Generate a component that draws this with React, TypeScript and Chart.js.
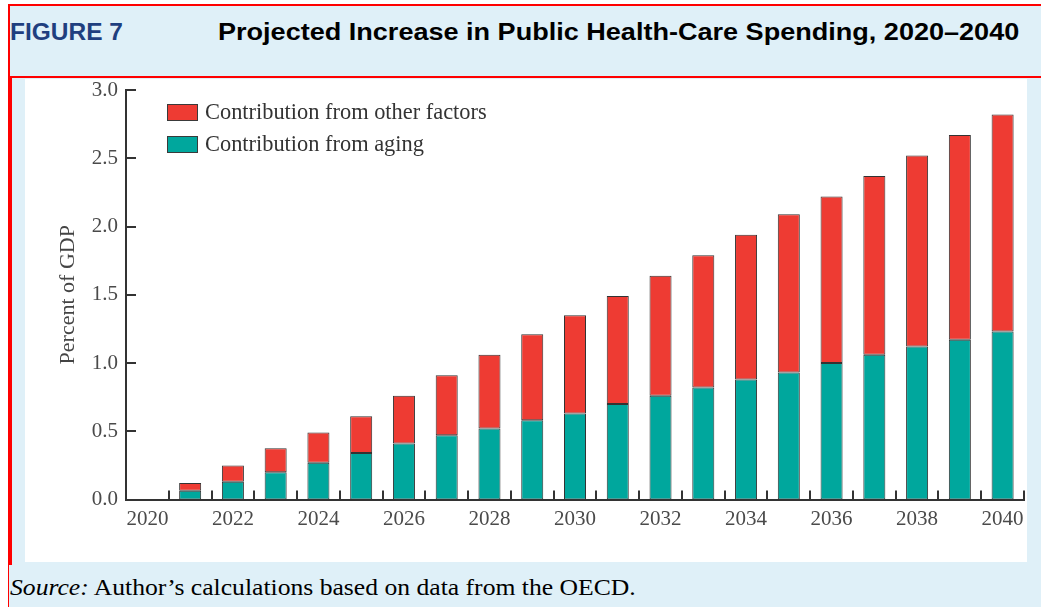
import React, { useEffect, useRef } from "react";
import { Chart, registerables } from "chart.js";

Chart.register(...registerables);

const years = [
  "2020", "2021", "2022", "2023", "2024", "2025", "2026", "2027", "2028", "2029", "2030",
  "2031", "2032", "2033", "2034", "2035", "2036", "2037", "2038", "2039", "2040",
];
const tickLabels = years.map((y, i) => (i % 2 === 0 ? y : ""));
const agingValues = [
  null, 0.065, 0.13, 0.2, 0.27, 0.34, 0.41, 0.47, 0.52, 0.58, 0.63,
  0.7, 0.76, 0.82, 0.88, 0.93, 1.0, 1.06, 1.12, 1.17, 1.23,
];
const otherValues = [
  null, 0.055, 0.12, 0.175, 0.22, 0.27, 0.35, 0.44, 0.54, 0.63, 0.72,
  0.79, 0.88, 0.97, 1.06, 1.16, 1.22, 1.31, 1.4, 1.5, 1.59,
];
const seriesNames = ["Contribution from aging", "Contribution from other factors"];
const seriesColors = ["#00A79D", "#EE3B33"];

const RED = "#FF0000";
const BLUE_BG = "#DFF0F8";
const AXIS = "#333333";

const innerTicks = {
  id: "innerTicks",
  afterDraw(chart: any) {
    const { ctx, scales } = chart;
    const x = scales.x;
    const y = scales.y;
    ctx.save();
    ctx.strokeStyle = AXIS;
    ctx.lineWidth = 2;
    ctx.beginPath();
    for (let i = 0; i < years.length; i++) {
      const px = Math.round(x.getPixelForValue(i + 0.5));
      ctx.moveTo(px, y.bottom);
      ctx.lineTo(px, y.bottom - 9);
    }
    y.ticks.forEach((t: any) => {
      const py = Math.round(y.getPixelForValue(t.value));
      ctx.moveTo(x.left, py);
      ctx.lineTo(x.left + 10, py);
    });
    ctx.stroke();
    ctx.restore();
  },
};

function ChartPanel() {
  const ref = useRef<HTMLCanvasElement | null>(null);
  useEffect(() => {
    if (!ref.current) return;
    const serifFont = "'Liberation Serif', 'Times New Roman', serif";
    const chart = new Chart(ref.current, {
      type: "bar",
      data: {
        labels: years,
        datasets: [
          {
            label: seriesNames[0],
            data: agingValues as any,
            backgroundColor: seriesColors[0],
            borderColor: "#333",
            borderWidth: 1,
            borderSkipped: false,
            barPercentage: 0.515,
            categoryPercentage: 1,
          },
          {
            label: seriesNames[1],
            data: otherValues as any,
            backgroundColor: seriesColors[1],
            borderColor: "#333",
            borderWidth: 1,
            borderSkipped: false,
            barPercentage: 0.515,
            categoryPercentage: 1,
          },
        ],
      },
      options: {
        animation: false,
        responsive: false,
        maintainAspectRatio: false,
        layout: { padding: { top: 11, right: 3, left: 0, bottom: 0 } },
        plugins: { legend: { display: false }, tooltip: { enabled: false } },
        scales: {
          x: {
            stacked: true,
            grid: { display: false, drawTicks: false },
            border: { display: true, color: AXIS, width: 2 },
            afterFit: (s: any) => {
              s.height = 62.5;
              s.paddingLeft = 0;
              s.paddingRight = 0;
            },
            ticks: {
              autoSkip: false,
              maxRotation: 0,
              padding: 7,
              color: "#4a4a4a",
              font: { family: serifFont, size: 21 },
              callback: (_v: any, i: number) => tickLabels[i],
            },
          },
          y: {
            stacked: true,
            min: 0,
            max: 3,
            grid: { display: false, drawTicks: false },
            border: { display: true, color: AXIS, width: 2 },
            afterFit: (s: any) => {
              s.width = 101;
              s.paddingTop = 0;
              s.paddingBottom = 0;
            },
            title: {
              display: true,
              text: "Percent of GDP",
              color: "#444",
              padding: { top: 30, bottom: 0 },
              font: { family: serifFont, size: 22 },
            },
            ticks: {
              stepSize: 0.5,
              padding: 8,
              color: "#4a4a4a",
              font: { family: serifFont, size: 21 },
              callback: (v: any) => Number(v).toFixed(1),
            },
          },
        },
      },
      plugins: [innerTicks],
    });
    return () => chart.destroy();
  }, []);
  return <canvas ref={ref} width={1002} height={483} style={{ display: "block" }} />;
}

export default function App() {
  useEffect(() => {
    document.body.style.margin = "0";
  }, []);
  const serif = "'Liberation Serif', 'Times New Roman', serif";
  const sans = "'Liberation Sans', Arial, sans-serif";
  return (
    <div style={{ position: "relative", width: 1041, height: 607, background: "#fff", overflow: "hidden" }}>
      {/* header */}
      <div
        style={{
          position: "absolute",
          left: 8,
          top: 4,
          width: 1041 - 8,
          height: 74,
          boxSizing: "border-box",
          background: BLUE_BG,
          borderTop: `2px solid ${RED}`,
          borderLeft: `2px solid ${RED}`,
          borderBottom: `2px solid ${RED}`,
        }}
      />
      <div
        style={{
          position: "absolute",
          left: 10,
          top: 17,
          fontFamily: sans,
          fontWeight: "bold",
          fontSize: 24,
          color: "#1F3F7F",
          lineHeight: "30px",
          whiteSpace: "nowrap",
          transform: "scaleX(1.02)",
          transformOrigin: "left center",
        }}
      >
        FIGURE 7
      </div>
      <div
        style={{
          position: "absolute",
          left: 218,
          top: 17,
          fontFamily: sans,
          fontWeight: "bold",
          fontSize: 24,
          color: "#000",
          lineHeight: "30px",
          whiteSpace: "nowrap",
          transform: "scaleX(1.127)",
          transformOrigin: "left center",
        }}
      >
        Projected Increase in Public Health-Care Spending, 2020–2040
      </div>
      {/* lower box */}
      <div
        style={{
          position: "absolute",
          left: 8,
          top: 78,
          width: 1041 - 8,
          height: 607 - 78,
          boxSizing: "border-box",
          background: BLUE_BG,
          borderLeft: `1.5px solid ${RED}`,
        }}
      />
      <div style={{ position: "absolute", left: 8, top: 78, width: 4, height: 487, background: RED }} />
      <div style={{ position: "absolute", left: 25, top: 79, width: 1002, height: 483, background: "#fff" }}>
        <ChartPanel />
      </div>
      {/* legend */}
      {[1, 0].map((k, row) => (
        <div
          key={k}
          style={{
            position: "absolute",
            left: 167,
            top: 99 + row * 32,
            height: 26,
            display: "flex",
            alignItems: "center",
            whiteSpace: "nowrap",
          }}
        >
          <div
            style={{
              width: 31,
              height: 17,
              boxSizing: "border-box",
              background: seriesColors[k],
              border: "1px solid #3a3a3a",
              marginRight: 7,
            }}
          />
          <span style={{ fontFamily: serif, fontSize: 22.4, color: "#333", lineHeight: "26px" }}>{seriesNames[k]}</span>
        </div>
      ))}
      {/* source */}
      <div
        style={{
          position: "absolute",
          left: 10,
          top: 573,
          fontFamily: serif,
          fontSize: 24,
          color: "#000",
          lineHeight: "28px",
          whiteSpace: "nowrap",
          transform: "scaleX(1.068)",
          transformOrigin: "left center",
        }}
      >
        <i>Source:</i> Author’s calculations based on data from the OECD.
      </div>
    </div>
  );
}
